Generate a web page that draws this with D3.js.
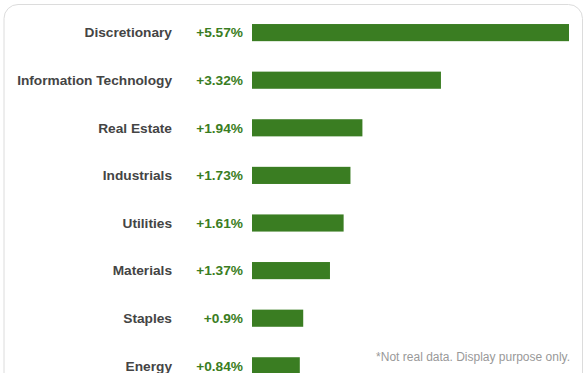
<!DOCTYPE html>
<html>
<head>
<meta charset="utf-8">
<script src="https://cdn.jsdelivr.net/npm/d3@7"></script>
<style>
  body { margin: 0; background: #fff; }
  svg { display: block; font-family: "Liberation Sans", Arial, Helvetica, sans-serif; }
</style>
</head>
<body>
<svg id="chart" width="587" height="373"></svg>
<script>
const categories = ["Discretionary", "Information Technology", "Real Estate", "Industrials",
  "Utilities", "Materials", "Staples", "Energy"];
const changes = [5.57, 3.32, 1.94, 1.73, 1.61, 1.37, 0.9, 0.84];
const note = "*Not real data. Display purpose only.";

const svg = d3.select("#chart");
const width = +svg.attr("width");

const data = categories.map((c, i) => ({ name: c, value: changes[i] }));

// card outline
svg.append("rect")
  .attr("x", 4)
  .attr("y", 4.5)
  .attr("width", 578.5)
  .attr("height", 420)
  .attr("rx", 14)
  .attr("fill", "#fff")
  .attr("stroke", "#dcdcdc");

const x = d3.scaleLinear()
  .domain([0, d3.max(changes)])
  .range([252, 569]);

const y = d3.scaleBand()
  .domain(categories)
  .range([8.8, 389.6])
  .paddingInner(0.64)
  .paddingOuter(0.32);

const rows = svg.selectAll(".row")
  .data(data)
  .enter()
  .append("g")
  .attr("class", "row");

rows.append("text")
  .attr("x", 172)
  .attr("y", d => y(d.name) + y.bandwidth() / 2)
  .attr("dy", "0.35em")
  .attr("text-anchor", "end")
  .attr("font-size", "13.7px")
  .attr("font-weight", "bold")
  .attr("fill", "#444")
  .text(d => d.name);

rows.append("text")
  .attr("x", 243)
  .attr("y", d => y(d.name) + y.bandwidth() / 2)
  .attr("dy", "0.35em")
  .attr("text-anchor", "end")
  .attr("font-size", "13.7px")
  .attr("font-weight", "bold")
  .attr("fill", "#3a7d22")
  .text(d => "+" + d.value + "%");

rows.append("rect")
  .attr("x", x(0))
  .attr("y", d => y(d.name))
  .attr("width", d => x(d.value) - x(0))
  .attr("height", y.bandwidth())
  .attr("fill", "#3a7d22");

svg.append("text")
  .attr("x", 570)
  .attr("y", 361)
  .attr("text-anchor", "end")
  .attr("font-size", "12px")
  .attr("fill", "#999")
  .text(note);
</script>
</body>
</html>
